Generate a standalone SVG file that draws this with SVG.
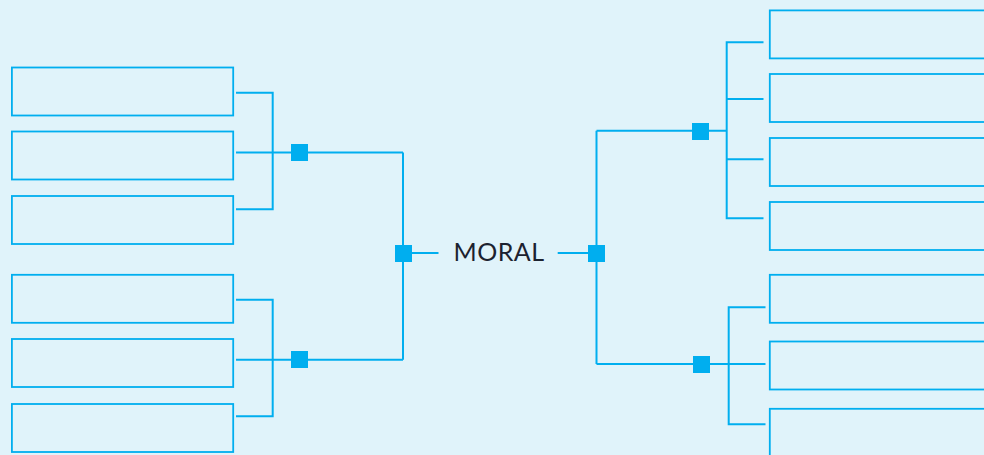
<svg xmlns="http://www.w3.org/2000/svg" width="984" height="455" viewBox="0 0 984 455">
  <style>
    .box { fill: none; stroke: #00aeef; stroke-width: 1.8; }
    .ln { fill: none; stroke: #00aeef; stroke-width: 2; }
    .sq { fill: #00aeef; }
    .lbl { font-family: Lato, "Liberation Sans", sans-serif; font-size: 25px; fill: #1c2230; text-anchor: middle; letter-spacing: 0.5px; }
  </style>
  <rect x="0" y="0" width="984" height="455" fill="#e0f3fa"/>

  <g id="connectors">
    <!-- left top bracket -->
    <path class="ln" d="M236 92.7 H272.7 V209.3 H236 M236 152.5 H403"/>
    <!-- left bottom bracket -->
    <path class="ln" d="M236 299.7 H272.7 V416.3 H236 M236 359.7 H403"/>
    <!-- left spine -->
    <path class="ln" d="M403 152.5 V359.7 M403 253 H438.5"/>
    <!-- right spine -->
    <path class="ln" d="M557.7 253 H596.5 M596.5 130.7 V364 M596.5 130.7 H726.7 M596.5 364 H728.7"/>
    <!-- right top bracket -->
    <path class="ln" d="M763.5 42.3 H726.7 V218.3 H763.5 M726.7 99 H763.5 M726.7 159.3 H763.5"/>
    <!-- right bottom bracket -->
    <path class="ln" d="M765.5 307.3 H728.7 V424.3 H765.5 M728.7 364 H765.5"/>
  </g>

  <g id="junction-left-top"><rect class="sq" x="291" y="144" width="17" height="17"/></g>
  <g id="junction-left-bottom"><rect class="sq" x="291" y="351" width="17" height="17"/></g>
  <g id="junction-center-left"><rect class="sq" x="395" y="245" width="17" height="17"/></g>
  <g id="junction-center-right"><rect class="sq" x="588" y="245" width="17" height="17"/></g>
  <g id="junction-right-top"><rect class="sq" x="692" y="123" width="17" height="17"/></g>
  <g id="junction-right-bottom"><rect class="sq" x="693" y="356" width="17" height="17"/></g>

  <g id="moral"><text class="lbl" x="499" y="260.7">MORAL</text></g>

  <g id="left-box-1"><rect class="box" x="11.9" y="67.5" width="221.3" height="48"/></g>
  <g id="left-box-2"><rect class="box" x="11.9" y="131.5" width="221.3" height="48"/></g>
  <g id="left-box-3"><rect class="box" x="11.9" y="196" width="221.3" height="48"/></g>
  <g id="left-box-4"><rect class="box" x="11.9" y="274.8" width="221.3" height="48"/></g>
  <g id="left-box-5"><rect class="box" x="11.9" y="339" width="221.3" height="48"/></g>
  <g id="left-box-6"><rect class="box" x="11.9" y="404" width="221.3" height="48"/></g>

  <g id="right-box-1"><rect class="box" x="769.8" y="10.4" width="221.3" height="48"/></g>
  <g id="right-box-2"><rect class="box" x="769.8" y="74" width="221.3" height="48"/></g>
  <g id="right-box-3"><rect class="box" x="769.8" y="138" width="221.3" height="48"/></g>
  <g id="right-box-4"><rect class="box" x="769.8" y="202" width="221.3" height="48"/></g>
  <g id="right-box-5"><rect class="box" x="769.8" y="274.8" width="221.3" height="48"/></g>
  <g id="right-box-6"><rect class="box" x="769.8" y="341.5" width="221.3" height="48"/></g>
  <g id="right-box-7"><rect class="box" x="769.8" y="408.8" width="221.3" height="48"/></g>
</svg>
